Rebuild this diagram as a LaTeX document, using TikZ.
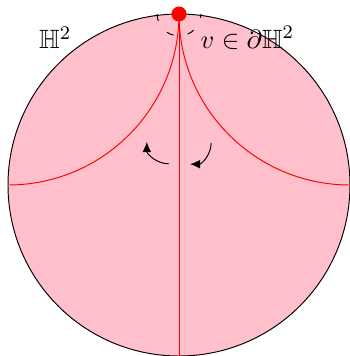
\documentclass[tikz,border=0pt]{standalone}
\usepackage{amssymb}
\usetikzlibrary{arrows.meta}
\definecolor{diskpink}{RGB}{255,192,203}
\begin{document}
\begin{tikzpicture}
\tikzset{
  geod/.style={red},
  rot/.style={-{Latex[length=4.2pt,width=3.6pt]}},
  lbl/.style={inner sep=0pt, font=\fontsize{11}{13}\selectfont},
}
\useasboundingbox (-2.617,-2.5) rectangle (2.5,2.705);
\coordinate (O) at (0,0);
\coordinate (v) at (0,2.5);
\coordinate (w) at (-2.5,0);
\coordinate (e) at (2.5,0);
\coordinate (s) at (0,-2.5);
\draw[fill=diskpink] (O) circle (2.5cm);
\draw[geod] (v) -- (s);
\draw[geod] (v) arc[start angle=0, end angle=-90, radius=2.5cm];
\draw[geod] (v) arc[start angle=180, end angle=270, radius=2.5cm];
\coordinate (la) at (-0.15,0.31);
\coordinate (ra) at (0.47,0.614);
\draw[rot] (la) arc[start angle=270, end angle=180, radius=0.32cm];
\draw[rot] (ra) arc[start angle=0, end angle=-90, radius=0.31cm];
\coordinate (da) at (-0.32,2.5);
\draw[loosely dashed] (da) arc[start angle=180, end angle=360, radius=0.32cm];
\node[circle, fill=red, inner sep=0pt, minimum size=0.22cm] (vdot) at (v) {};
\node[lbl] (H) at (-1.81,2.15) {$\mathbb{H}^2$};
\node[lbl] (vlab) at (1.0,2.15) {$v\in\partial\mathbb{H}^2$};
\end{tikzpicture}
\end{document}
